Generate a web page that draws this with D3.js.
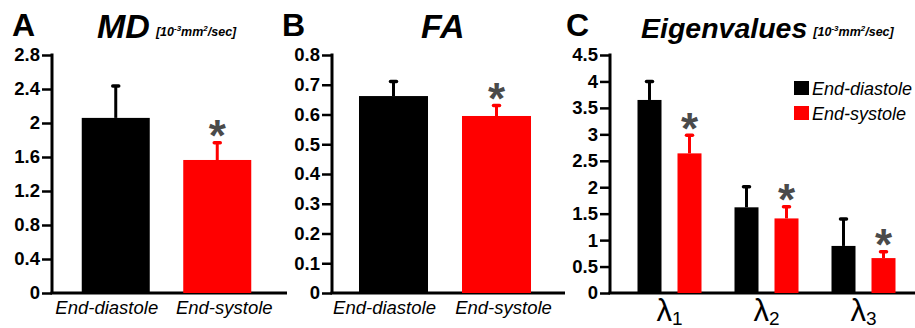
<!DOCTYPE html>
<html>
<head>
<meta charset="utf-8">
<script src="https://cdn.jsdelivr.net/npm/d3@7"></script>
<style>
  html, body { margin: 0; padding: 0; background: #fff; }
  svg { display: block; }
  text { font-family: "Liberation Sans", Arial, sans-serif; }
</style>
</head>
<body>
<svg id="chart" width="915" height="328"></svg>
<script>
// ---------- data ----------
const categories = ["End-diastole", "End-systole"];
const mdMean = [2.06, 1.565];
const mdErr = [0.38, 0.21];
const mdTicks = [0, 0.4, 0.8, 1.2, 1.6, 2.0, 2.4, 2.8];

const faMean = [0.662, 0.595];
const faErr = [0.051, 0.037];
const faTicks = [0, 0.1, 0.2, 0.3, 0.4, 0.5, 0.6, 0.7, 0.8];

const eigenGroups = ["1", "2", "3"];
const eigenDiastole = [3.65, 1.62, 0.89];
const eigenDiastoleErr = [0.36, 0.40, 0.52];
const eigenSystole = [2.64, 1.41, 0.66];
const eigenSystoleErr = [0.35, 0.23, 0.13];
const eigenTicks = [0, 0.5, 1, 1.5, 2, 2.5, 3, 3.5, 4, 4.5];

const significant = [false, true];
const colors = ["#000000", "#ff0000"];
const starColor = "#4a4a4a";

// ---------- layout ----------
const svg = d3.select("#chart");
const yTop = 55, yBottom = 293;
const labelShift = [-9, 7];
const tickFmt = d => String(+d.toFixed(2));

function drawYAxis(g, y, x0, xEnd, ticks) {
  const ax = g.append("g").attr("transform", `translate(${x0},0)`)
    .call(d3.axisLeft(y).tickValues(ticks).tickSize(10).tickPadding(2).tickFormat(tickFmt));
  ax.select(".domain").remove();
  ax.selectAll(".tick line").attr("stroke", "#000").attr("stroke-width", 2.5);
  ax.selectAll(".tick text")
    .attr("font-size", 18.5).attr("font-weight", "bold").attr("fill", "#000");
  g.append("line").attr("x1", x0).attr("x2", x0).attr("y1", yTop - 1.5).attr("y2", yBottom)
    .attr("stroke", "#000").attr("stroke-width", 3);
  g.append("line").attr("x1", x0 - 1.5).attr("x2", xEnd).attr("y1", yBottom).attr("y2", yBottom)
    .attr("stroke", "#000").attr("stroke-width", 3);
}

function drawBar(g, xLeft, w, y, val, err, color, star) {
  const xc = xLeft + w / 2;
  g.append("line").attr("x1", xc).attr("x2", xc).attr("y1", y(val)).attr("y2", y(val + err))
    .attr("stroke", color).attr("stroke-width", 3);
  g.append("line").attr("x1", xc - 3).attr("x2", xc + 3).attr("y1", y(val + err) + 0.5).attr("y2", y(val + err) + 0.5)
    .attr("stroke", color).attr("stroke-width", 3.5).attr("stroke-linecap", "round");
  g.append("rect").attr("x", xLeft).attr("y", y(val)).attr("width", w).attr("height", yBottom - y(val))
    .attr("fill", color);
  if (star) {
    g.append("text").attr("x", xc).attr("y", y(val + err) + 9)
      .attr("text-anchor", "middle").attr("font-size", 44).attr("font-weight", "bold")
      .attr("fill", starColor).text("*");
  }
}

function drawTitle(g, letter, lx, title, tx, tsize, unit) {
  g.append("text").attr("x", lx).attr("y", 36).attr("font-size", 32).attr("font-weight", "bold")
    .attr("fill", "#000").text(letter);
  const t = g.append("text").attr("x", tx).attr("y", 38).attr("font-size", tsize)
    .attr("font-weight", "bold").attr("font-style", "italic").attr("fill", "#000").text(title);
  if (unit) {
    const tw = t.node().getComputedTextLength();
    const u = g.append("text").attr("x", tx + tw + 6).attr("y", 36).attr("font-size", 12.5)
      .attr("font-weight", "bold").attr("font-style", "italic").attr("fill", "#000");
    u.append("tspan").text("[10");
    u.append("tspan").attr("font-size", 8).attr("dy", -5).text("-3");
    u.append("tspan").attr("dy", 5).text("mm");
    u.append("tspan").attr("font-size", 8).attr("dy", -5).text("2");
    u.append("tspan").attr("dy", 5).text("/sec]");
  }
}

function simplePanel(x0, xEnd, bandRange, maxV, ticks, means, errs, letter, lx, title, tx, tsize, unit) {
  const g = svg.append("g");
  const y = d3.scaleLinear().domain([0, maxV]).range([yBottom, yTop]);
  const x = d3.scaleBand().domain(categories).range(bandRange).paddingInner(0.33).paddingOuter(0.165);
  drawYAxis(g, y, x0, xEnd, ticks);
  categories.forEach((c, i) => drawBar(g, x(c), x.bandwidth(), y, means[i], errs[i], colors[i], significant[i]));
  categories.forEach((c, i) => {
    g.append("text").attr("x", x(c) + x.bandwidth() / 2 + labelShift[i]).attr("y", 314).attr("text-anchor", "middle")
      .attr("font-size", 18.5).attr("font-style", "italic").attr("fill", "#000").text(c);
  });
  drawTitle(g, letter, lx, title, tx, tsize, unit);
}

simplePanel(52, 287, [65, 268], 2.8, mdTicks, mdMean, mdErr, "A", 12, "MD", 97, 34, true);
simplePanel(332, 565, [342, 548], 0.8, faTicks, faMean, faErr, "B", 282, "FA", 421, 34, false);

// ---------- panel C ----------
(function () {
  const g = svg.append("g");
  const x0 = 610, xEnd = 915;
  const y = d3.scaleLinear().domain([0, 4.5]).range([yBottom, yTop]);
  const xg = d3.scaleBand().domain(eigenGroups).range([621, 912]).padding(0);
  const xi = d3.scaleBand().domain(categories).range([0, xg.bandwidth()]).paddingInner(0.4).paddingOuter(0.4125);
  drawYAxis(g, y, x0, xEnd, eigenTicks);
  const series = [
    { mean: eigenDiastole, err: eigenDiastoleErr },
    { mean: eigenSystole, err: eigenSystoleErr }
  ];
  eigenGroups.forEach((grp, gi) => {
    categories.forEach((c, ci) => {
      drawBar(g, xg(grp) + xi(c), xi.bandwidth(), y, series[ci].mean[gi], series[ci].err[gi], colors[ci], significant[ci]);
    });
    const lt = g.append("text").attr("x", xg(grp) + xg.bandwidth() / 2).attr("y", 321)
      .attr("text-anchor", "middle").attr("font-size", 31).attr("fill", "#000");
    lt.append("tspan").text("λ");
    lt.append("tspan").attr("font-size", 19).attr("dy", 4).text(grp);
  });
  const leg = g.append("g");
  categories.forEach((c, i) => {
    leg.append("rect").attr("x", 794).attr("y", 81 + i * 25).attr("width", 15).attr("height", 14)
      .attr("fill", colors[i]);
    leg.append("text").attr("x", 812).attr("y", 94.5 + i * 25).attr("font-size", 18)
      .attr("font-style", "italic").attr("fill", "#000").text(c);
  });
  drawTitle(g, "C", 566, "Eigenvalues", 641, 28.5, true);
})();
</script>
</body>
</html>
